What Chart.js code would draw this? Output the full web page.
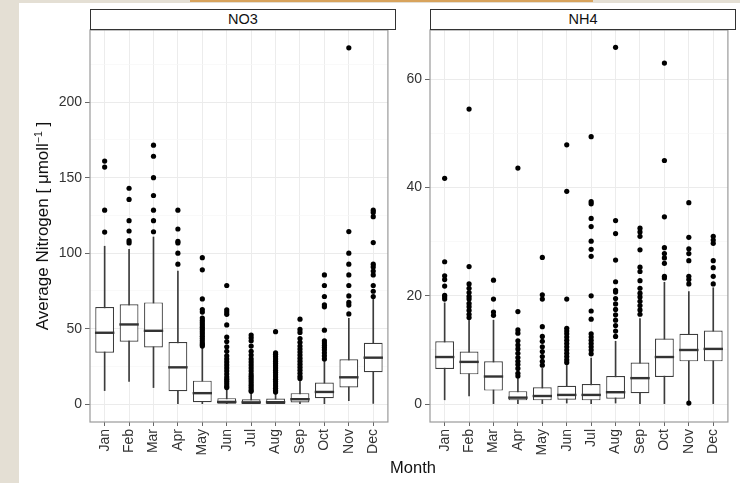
<!DOCTYPE html>
<html>
<head>
<meta charset="utf-8">
<script src="https://cdn.jsdelivr.net/npm/chart.js@4.4.1/dist/chart.umd.min.js"></script>
<style>
  html, body { margin:0; padding:0; }
  body { width:740px; height:483px; position:relative; overflow:hidden; background:#ffffff;
         font-family:"Liberation Sans", Arial, Helvetica, sans-serif; }
  #frameLeft { position:absolute; left:0; top:0; width:19px; height:483px; background:#e4dfd4; }
  #frameTop { position:absolute; left:0; top:0; width:740px; height:3px; background:#e4dfd4; }
  #frameTopAccent { position:absolute; left:190px; top:0; width:403px; height:2px; background:#d8a35c; }
  canvas { position:absolute; top:0; }
  #c1 { left:19px; }
  #c2 { left:400px; }
  .strip { position:absolute; top:9px; height:21px; width:306px; box-sizing:border-box;
           border:1.5px solid #333; background:#fff; text-align:center; font-size:14.5px;
           line-height:18px; color:#111; }
  #ytitle { position:absolute; left:-157px; top:216px; width:400px; height:20px; line-height:20px;
            text-align:center; font-size:17px; color:#111; transform:rotate(-90deg); transform-origin:50% 50%; }
  #ytitle sup { font-size:10.5px; line-height:0; vertical-align:6px; }
  #xtitle { position:absolute; left:363px; top:458px; width:100px; text-align:center; font-size:16.5px; color:#111; }
</style>
</head>
<body>
<div id="frameLeft"></div>
<div id="frameTop"></div>
<div id="frameTopAccent"></div>
<canvas id="c1" width="381" height="483"></canvas>
<canvas id="c2" width="340" height="483"></canvas>
<div class="strip" style="left:90px;">NO3</div>
<div class="strip" style="left:430px;">NH4</div>
<div id="ytitle">Average Nitrogen [ μmoll<sup>−1</sup> ]</div>
<div id="xtitle">Month</div>
<script>
// ---------- data ----------
const months = ['Jan','Feb','Mar','Apr','May','Jun','Jul','Aug','Sep','Oct','Nov','Dec'];

// NO3 box statistics
const no3Low    = [9, 15, 11, 0, 0, 0, 0, 0, 0, 0, 2.4, 0.5];
const no3Q1     = [34.1, 41.4, 37.6, 8.6, 1.3, 0.3, 0.2, 0.2, 1.1, 4, 11, 21.1];
const no3Median = [47.3, 52.8, 48.6, 24.4, 7.3, 1.5, 1.2, 1.3, 3.3, 8.1, 17.8, 30.8];
const no3Q3     = [64.3, 66.2, 67.4, 41.1, 15.6, 4, 3.3, 3.8, 7.3, 14.3, 29.7, 40.7];
const no3High   = [104.6, 102.6, 110.7, 88.2, 37.5, 10, 8, 7.5, 16, 29, 56.8, 70];
const no3Outliers = [
  [161, 157, 128.5, 114],
  [143, 135.6, 121.5, 114.7, 108.3, 106.8],
  [171.5, 164.2, 150, 138.2, 128.5, 121.5, 114.2],
  [128.5, 116, 107.8, 106.8, 100, 92.7],
  [97, 89, 69.7, 62.7, 61, 57, 55.5, 54, 52.5, 51, 49.5, 48, 46.5, 45, 43.5, 42, 40.5, 39.5, 38.5],
  [78.6, 62.5, 61, 59.5, 52.5, 44.5, 41.5, 38, 35, 32, 30, 28, 26, 24, 22, 20, 18, 16.5, 15, 13.5, 12, 11],
  [45.8, 44, 42, 38.5, 35, 32.5, 30, 28, 26, 24, 22, 20, 18.5, 17, 15.5, 14, 12.5, 11, 9.5, 8.5],
  [48, 34, 33, 31.5, 30, 28.5, 27, 25.5, 24, 22.5, 21, 19.5, 18, 16.5, 15, 13.5, 12, 10.5, 9, 8],
  [56.3, 49.5, 47.5, 43.5, 41, 38.5, 36.5, 34.5, 32.5, 30.5, 28.5, 26.5, 24.5, 22.5, 20.5, 18.5, 17],
  [85.6, 78.6, 71.3, 65.8, 64.5, 49, 42, 40.5, 39, 37.5, 36, 34, 32, 30],
  [236, 114.3, 100, 92.7, 85.6, 78.6, 71.7, 67.4, 65.6, 59.8],
  [128.5, 127, 124.2, 107, 92.7, 90.9, 88.2, 85.6, 78.6, 74.8, 71.3]
];

// NH4 box statistics
const nh4Low    = [0.8, 1.5, 0, 0, 0, 0.2, 0, 0.2, 0, 0, 0.6, 0];
const nh4Q1     = [6.5, 5.5, 2.5, 0.7, 0.7, 0.8, 0.7, 1, 2, 5, 7.9, 7.9];
const nh4Median = [8.7, 7.8, 5.1, 1.2, 1.5, 1.7, 1.7, 2.2, 4.8, 8.7, 10, 10.2];
const nh4Q3     = [11.6, 9.7, 7.9, 2.4, 3.1, 3.4, 3.7, 5.2, 7.7, 12.1, 13, 13.6];
const nh4High   = [18.7, 15.6, 15.5, 4.8, 6.6, 7.3, 8.5, 11.6, 15.8, 22.5, 20.8, 21.5];
const nh4Outliers = [
  [41.7, 26.3, 23.7, 23, 21.8, 20.1, 19.8, 19.4],
  [54.5, 25.4, 22.2, 21.4, 20.6, 19.9, 19.4, 18.6, 18, 17.3, 16.6, 16],
  [22.9, 19.4, 17, 16.4],
  [43.6, 17.1, 13.7, 13.1, 11.7, 10.9, 10.2, 9.4, 8.6, 7.9, 7.3, 6.6, 5.7, 5.2],
  [27.1, 20.2, 19.4, 14.3, 12.5, 11.6, 10.6, 9.7, 8.8, 7.9, 7.2],
  [47.9, 39.3, 19.4, 14, 13.5, 13, 12.4, 11.8, 11.2, 10.6, 10, 9.4, 8.8, 8.2, 7.7],
  [49.4, 37.4, 37, 34.3, 32.8, 30.1, 28.6, 27.3, 20, 17.2, 15.7, 13, 12.4, 11.8, 11.2, 10.6, 10, 9.3],
  [65.9, 33.9, 31.5, 26.6, 22.6, 21, 20.7, 19.5, 18.5, 17.5, 16.5, 15.5, 14.5, 13.5, 12.5],
  [32.5, 31.8, 31, 28.5, 25.3, 24.5, 22.8, 21.4, 20.5, 19.8, 19, 18.2, 17.4, 16.6],
  [63, 45, 34.6, 28.9, 27.8, 27, 26, 23.6, 23.3],
  [37.2, 30.8, 28.7, 27.8, 26.5, 23.6, 23, 22.2, 0.2],
  [31, 30.3, 29.7, 26.5, 25.2, 23.6, 22.2]
];

// axis tick labels and ranges
const no3TickLabels = [0, 50, 100, 150, 200];
const nh4TickLabels = [0, 20, 40, 60];
const no3Range = [-11.8, 247.8];
const nh4Range = [-3.3, 69.1];

// ---------- drawing ----------
const FONT = '"Liberation Sans", Arial, Helvetica, sans-serif';

const panelBorder = {
  id: 'panelBorder',
  afterDatasetsDraw(chart) {
    const a = chart.chartArea, ctx = chart.ctx;
    ctx.save();
    ctx.strokeStyle = '#9a9a9a';
    ctx.lineWidth = 1.2;
    ctx.strokeRect(a.left, a.top, a.right - a.left, a.bottom - a.top);
    ctx.restore();
  }
};

function gridValues(labels, max) {
  const step = (labels[1] - labels[0]) / 2;
  const out = [];
  for (let v = labels[0]; v <= max; v += step) out.push(v);
  return out;
}

function buildChart(id, low, q1, med, q3, high, outl, range, tickLabels, axisWidth) {
  const whiskers = months.map((m, i) => ({ x: i, y: [low[i], high[i]] }));
  const boxes = months.map((m, i) => ({ x: i, y: [q1[i], q3[i]] }));
  const medians = months.map((m, i) => ({ x: i, y: med[i] }));
  const points = [];
  outl.forEach((arr, i) => arr.forEach(v => points.push({ x: i, y: v })));
  const grid = gridValues(tickLabels, range[1]);
  const isMajor = v => tickLabels.includes(v);

  return new Chart(document.getElementById(id), {
    type: 'bar',
    data: {
      datasets: [
        { type: 'scatter', data: points, order: 0, pointRadius: 2.6, pointHoverRadius: 2.6,
          pointBackgroundColor: '#000', pointBorderWidth: 0 },
        { type: 'scatter', data: medians, order: 1, pointStyle: 'line', pointRadius: 9.7,
          pointHoverRadius: 9.7, pointBorderColor: '#333', pointBorderWidth: 2.4 },
        { type: 'bar', data: boxes, order: 2, grouped: false, barPercentage: 0.77,
          categoryPercentage: 1, backgroundColor: '#fff', borderColor: '#3c3c3c', borderWidth: 1.2,
          borderSkipped: false },
        { type: 'bar', data: whiskers, order: 3, grouped: false, barThickness: 1,
          backgroundColor: '#3c3c3c', borderWidth: 0 }
      ]
    },
    options: {
      responsive: false,
      animation: false,
      devicePixelRatio: 1,
      events: [],
      layout: { padding: { top: 30, right: 4, left: 0, bottom: 0 } },
      plugins: { legend: { display: false }, tooltip: { enabled: false } },
      scales: {
        x: {
          type: 'linear', min: -0.6, max: 11.6, offset: false,
          afterBuildTicks: s => { s.ticks = months.map((m, i) => ({ value: i })); },
          afterFit: s => { s.height = 61; },
          ticks: { callback: v => months[v], autoSkip: false, minRotation: 90, maxRotation: 90,
                   padding: 3, color: '#333', font: { family: FONT, size: 14 } },
          grid: { offset: false, color: '#ececec', lineWidth: 1, tickLength: 4, tickColor: '#666' },
          border: { display: false }
        },
        y: {
          min: range[0], max: range[1],
          afterBuildTicks: s => { s.ticks = grid.map(v => ({ value: v })); },
          afterFit: s => { s.width = axisWidth; },
          ticks: { callback: v => isMajor(v) ? String(v) : '', autoSkip: false, padding: 3,
                   color: '#333', font: { family: FONT, size: 14 } },
          grid: {
            color: c => (c.tick && isMajor(c.tick.value)) ? '#ebebeb' : '#f6f6f6',
            lineWidth: c => (c.tick && isMajor(c.tick.value)) ? 1 : 0.7,
            tickColor: c => (c.tick && isMajor(c.tick.value)) ? '#666' : 'rgba(0,0,0,0)',
            tickLength: 5
          },
          border: { display: false }
        }
      }
    },
    plugins: [panelBorder]
  });
}

buildChart('c1', no3Low, no3Q1, no3Median, no3Q3, no3High, no3Outliers, no3Range, no3TickLabels, 71);
buildChart('c2', nh4Low, nh4Q1, nh4Median, nh4Q3, nh4High, nh4Outliers, nh4Range, nh4TickLabels, 30);
</script>
</body>
</html>
